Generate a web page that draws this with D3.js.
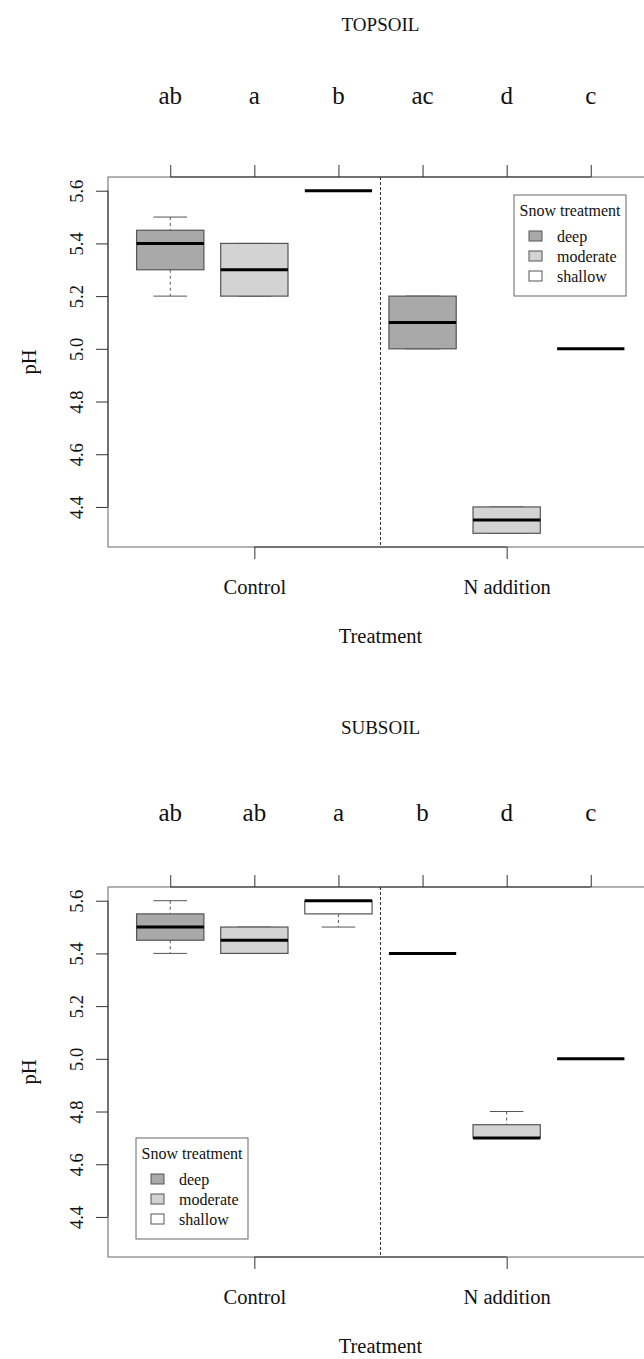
<!DOCTYPE html>
<html>
<head>
<meta charset="utf-8">
<script src="https://cdn.jsdelivr.net/npm/d3@7"></script>
<style>
  body { margin: 0; background: #fff; }
  svg text { font-family: "Liberation Serif", "Times New Roman", serif; fill: #111; }
</style>
</head>
<body>
<div id="chart"></div>
<script>
// data (pH box stats: low whisker, Q1, median, Q3, high whisker)
const treatments = ["Control", "N addition"]
const snowLevels = ["deep", "moderate", "shallow"]
const snowColors = ["#a9a9a9", "#d3d3d3", "#ffffff"]
const yTicks = [4.4, 4.6, 4.8, 5.0, 5.2, 5.4, 5.6]

const topsoilStats = [
    [5.2, 5.3, 5.4, 5.45, 5.5],
    [5.2, 5.2, 5.3, 5.4, 5.4],
    [5.6, 5.6, 5.6, 5.6, 5.6],
    [5.0, 5.0, 5.1, 5.2, 5.2],
    [4.3, 4.3, 4.35, 4.4, 4.4],
    [5.0, 5.0, 5.0, 5.0, 5.0]
]
const topsoilLetters = ["ab", "a", "b", "ac", "d", "c"]

const subsoilStats = [
    [5.4, 5.45, 5.5, 5.55, 5.6],
    [5.4, 5.4, 5.45, 5.5, 5.5],
    [5.5, 5.55, 5.6, 5.6, 5.6],
    [5.4, 5.4, 5.4, 5.4, 5.4],
    [4.7, 4.7, 4.7, 4.75, 4.8],
    [5.0, 5.0, 5.0, 5.0, 5.0]
]
const subsoilLetters = ["ab", "ab", "a", "b", "d", "c"]

const width = 644, height = 1359

const svg = d3.select("#chart")
    .append("svg")
    .attr("width", width)
    .attr("height", height)

// x in box-index units like R's boxplot (1..6)
const x = d3.scaleLinear().domain([0.26, 6.74]).range([108, 653])
const boxW = (x(1) - x(0)) * 0.8

function drawPanel(opts) {
    const g = svg.append("g")
    const y = d3.scaleLinear().domain([4.248, 5.652]).range([opts.bottom, opts.top])

    // title + significance letters
    g.append("text")
        .attr("x", x(3.5)).attr("y", opts.titleY)
        .attr("text-anchor", "middle")
        .style("font-size", "19px")
        .text(opts.title)

    g.selectAll(".letter")
        .data(opts.letters)
        .enter()
        .append("text")
        .attr("class", "letter")
        .attr("x", (d, i) => x(i + 1))
        .attr("y", opts.letterY)
        .attr("text-anchor", "middle")
        .style("font-size", "25px")
        .text(d => d)

    // frame
    g.append("rect")
        .attr("x", x(0.26)).attr("y", opts.top)
        .attr("width", x(6.74) - x(0.26)).attr("height", opts.bottom - opts.top)
        .attr("fill", "none").attr("stroke", "#666").attr("stroke-width", 1)

    // dashed separator between treatments
    g.append("line")
        .attr("x1", x(3.5)).attr("x2", x(3.5))
        .attr("y1", opts.top).attr("y2", opts.bottom)
        .attr("stroke", "#333").attr("stroke-dasharray", "3,2")

    // boxes
    const boxes = g.selectAll(".box")
        .data(opts.stats)
        .enter()
        .append("g")
        .attr("class", "box")

    // whiskers (dashed) + caps
    boxes.append("line")
        .attr("x1", (d, i) => x(i + 1)).attr("x2", (d, i) => x(i + 1))
        .attr("y1", d => y(d[4])).attr("y2", d => y(d[3]))
        .attr("stroke", "#555").attr("stroke-dasharray", "3,3")
    boxes.append("line")
        .attr("x1", (d, i) => x(i + 1)).attr("x2", (d, i) => x(i + 1))
        .attr("y1", d => y(d[1])).attr("y2", d => y(d[0]))
        .attr("stroke", "#555").attr("stroke-dasharray", "3,3")
    boxes.append("line")
        .attr("x1", (d, i) => x(i + 1) - boxW / 4).attr("x2", (d, i) => x(i + 1) + boxW / 4)
        .attr("y1", d => y(d[4])).attr("y2", d => y(d[4]))
        .attr("stroke", "#555")
    boxes.append("line")
        .attr("x1", (d, i) => x(i + 1) - boxW / 4).attr("x2", (d, i) => x(i + 1) + boxW / 4)
        .attr("y1", d => y(d[0])).attr("y2", d => y(d[0]))
        .attr("stroke", "#555")

    boxes.append("rect")
        .attr("x", (d, i) => x(i + 1) - boxW / 2)
        .attr("y", d => y(d[3]))
        .attr("width", boxW)
        .attr("height", d => y(d[1]) - y(d[3]))
        .attr("fill", (d, i) => snowColors[i % 3])
        .attr("stroke", "#555")
        .attr("stroke-width", 1.2)

    boxes.append("line")
        .attr("x1", (d, i) => x(i + 1) - boxW / 2).attr("x2", (d, i) => x(i + 1) + boxW / 2)
        .attr("y1", d => y(d[2])).attr("y2", d => y(d[2]))
        .attr("stroke", "#000").attr("stroke-width", 3)

    // left axis
    const yAxis = g.append("g")
        .attr("transform", `translate(${x(0.26)},0)`)
        .call(d3.axisLeft(y).tickValues(yTicks).tickSize(12).tickFormat(d3.format(".1f")))
    yAxis.select(".domain").attr("stroke", "#333")
        .attr("d", `M0,${y(4.4)}V${y(5.6)}`)
    yAxis.selectAll(".tick line").attr("stroke", "#333")
    yAxis.selectAll(".tick text")
        .attr("x", 0).attr("dy", 0)
        .attr("transform", "translate(-25,0) rotate(-90)")
        .attr("text-anchor", "middle")
        .style("font-size", "18.5px")
        .style("font-family", "Liberation Serif")

    // top axis, unlabeled ticks at every box
    const topAxis = g.append("g")
        .attr("transform", `translate(0,${opts.top})`)
        .call(d3.axisTop(x).tickValues([1, 2, 3, 4, 5, 6]).tickSize(12).tickFormat(""))
    topAxis.select(".domain").attr("stroke", "#333").attr("d", `M${x(1)},0H${x(6)}`)
    topAxis.selectAll(".tick line").attr("stroke", "#333")

    // bottom axis, treatment labels
    const botAxis = g.append("g")
        .attr("transform", `translate(0,${opts.bottom})`)
        .call(d3.axisBottom(x).tickValues([2, 5]).tickSize(12).tickFormat((d, i) => treatments[i]))
    botAxis.select(".domain").attr("stroke", "#333").attr("d", `M${x(2)},0H${x(5)}`)
    botAxis.selectAll(".tick line").attr("stroke", "#333")
    botAxis.selectAll(".tick text")
        .attr("y", 47).attr("dy", 0)
        .style("font-size", "20.5px")
        .style("font-family", "Liberation Serif")

    // axis titles
    g.append("text")
        .attr("x", x(3.5)).attr("y", opts.bottom + 96)
        .attr("text-anchor", "middle")
        .style("font-size", "20.5px")
        .text("Treatment")
    g.append("text")
        .attr("transform", `translate(36,${(opts.top + opts.bottom) / 2}) rotate(-90)`)
        .attr("text-anchor", "middle")
        .style("font-size", "20.5px")
        .text("pH")

    // legend
    const leg = g.append("g").attr("transform", `translate(${opts.legX},${opts.legY})`)
    leg.append("rect")
        .attr("width", 112).attr("height", 101)
        .attr("fill", "#fff").attr("stroke", "#666")
    leg.append("text")
        .attr("x", 56).attr("y", 21)
        .attr("text-anchor", "middle")
        .style("font-size", "16px")
        .text("Snow treatment")
    const items = leg.selectAll(".item")
        .data(snowLevels)
        .enter()
        .append("g")
        .attr("transform", (d, i) => `translate(0,${41 + i * 20})`)
    items.append("rect")
        .attr("x", 15).attr("y", -5)
        .attr("width", 13).attr("height", 10)
        .attr("fill", (d, i) => snowColors[i])
        .attr("stroke", "#555")
    items.append("text")
        .attr("x", 43).attr("y", 5.5)
        .style("font-size", "16px")
        .text(d => d)
}

drawPanel({
    title: "TOPSOIL", titleY: 31, letters: topsoilLetters, letterY: 104,
    stats: topsoilStats, top: 177, bottom: 547, legX: 514, legY: 195
})

drawPanel({
    title: "SUBSOIL", titleY: 734, letters: subsoilLetters, letterY: 821,
    stats: subsoilStats, top: 887, bottom: 1257, legX: 136, legY: 1138
})
</script>
</body>
</html>
